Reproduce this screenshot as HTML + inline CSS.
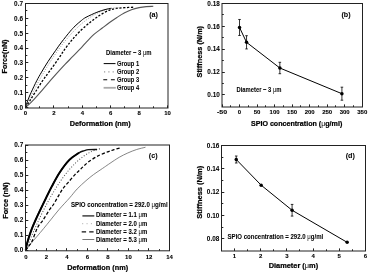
<!DOCTYPE html>
<html><head><meta charset="utf-8"><style>
html,body{margin:0;padding:0;background:#fff;width:368px;height:274px;overflow:hidden;}
</style></head><body>
<svg xmlns="http://www.w3.org/2000/svg" width="368" height="274" viewBox="0 0 368 274" style="position:absolute;left:0;top:0;font-family:'Liberation Sans', sans-serif;filter:grayscale(1)">
<rect width="368" height="274" fill="#fff"/>
<g>
<rect width="368" height="274" fill="#fff"/>
<path d="M25.50,107.50 C26.26,106.81 28.62,104.70 30.04,103.34 C31.46,101.98 31.98,101.53 34.02,99.33 C36.06,97.12 39.51,93.26 42.26,90.12 C45.00,86.97 47.84,83.51 50.49,80.46 C53.14,77.41 55.70,74.57 58.16,71.84 C60.62,69.12 62.77,66.72 65.26,64.12 C67.74,61.52 70.23,59.16 73.07,56.24 C75.91,53.32 78.87,50.18 82.30,46.59 C85.73,43.00 90.32,37.80 93.66,34.70 C97.00,31.60 99.67,30.04 102.32,28.01 C104.97,25.98 107.13,24.28 109.56,22.52 C112.00,20.76 114.51,19.05 116.95,17.47 C119.39,15.88 121.78,14.30 124.19,13.01 C126.60,11.72 128.95,10.63 131.43,9.74 C133.92,8.85 136.64,8.18 139.10,7.66 C141.56,7.14 143.83,6.84 146.20,6.62 C148.57,6.40 152.12,6.37 153.30,6.32" fill="none" stroke="#555" stroke-width="1.1"/>
<path d="M25.50,107.50 C26.21,106.39 28.10,103.41 29.76,100.81 C31.42,98.21 33.31,95.24 35.44,91.90 C37.57,88.56 40.17,84.22 42.54,80.76 C44.91,77.29 47.04,74.69 49.64,71.10 C52.24,67.51 55.67,62.80 58.16,59.21 C60.64,55.62 62.54,52.40 64.55,49.56 C66.56,46.71 68.55,44.23 70.23,42.13 C71.91,40.02 73.09,38.66 74.63,36.93 C76.17,35.20 77.57,33.59 79.46,31.73 C81.35,29.87 84.00,27.52 85.99,25.79 C87.98,24.05 89.57,22.76 91.39,21.33 C93.21,19.89 95.08,18.46 96.93,17.17 C98.77,15.88 100.36,14.79 102.46,13.60 C104.57,12.41 107.24,10.90 109.56,10.04 C111.88,9.17 113.82,8.80 116.38,8.40 C118.94,8.01 121.89,7.86 124.90,7.66 C127.91,7.46 132.83,7.29 134.41,7.21" fill="none" stroke="#000" stroke-width="1.3" stroke-dasharray="2.2 1.6"/>
<path d="M25.50,107.50 C26.15,106.14 28.10,102.01 29.41,99.35 C30.71,96.70 32.01,94.10 33.31,91.55 C34.61,89.01 35.91,86.53 37.21,84.10 C38.52,81.67 39.82,79.30 41.12,76.99 C42.42,74.68 43.72,72.43 45.03,70.23 C46.33,68.04 47.63,65.90 48.93,63.82 C50.23,61.74 51.53,59.72 52.83,57.75 C54.14,55.79 55.44,53.88 56.74,52.03 C58.04,50.18 59.34,48.39 60.65,46.66 C61.95,44.93 63.25,43.25 64.55,41.63 C65.85,40.02 67.15,38.46 68.45,36.95 C69.76,35.45 71.06,34.01 72.36,32.62 C73.66,31.23 74.96,29.90 76.27,28.63 C77.57,27.36 78.87,26.15 80.17,24.99 C81.47,23.84 82.77,22.74 84.07,21.70 C85.38,20.66 86.68,19.68 87.98,18.75 C89.28,17.83 90.58,16.96 91.88,16.15 C93.19,15.34 94.49,14.59 95.79,13.90 C97.09,13.21 98.39,12.57 99.69,11.99 C101.00,11.42 102.30,10.90 103.60,10.43 C104.90,9.97 106.20,9.57 107.50,9.22 C108.81,8.87 110.11,8.58 111.41,8.35 C112.71,8.12 114.01,7.95 115.31,7.83 C116.62,7.72 118.57,7.69 119.22,7.66" fill="none" stroke="#999" stroke-width="1" stroke-dasharray="1 1.5"/>
<path d="M25.50,107.50 C25.86,106.39 26.71,103.29 27.63,100.81 C28.55,98.34 29.52,95.99 31.04,92.64 C32.55,89.30 34.97,84.17 36.72,80.76 C38.47,77.34 39.65,75.36 41.55,72.14 C43.44,68.92 45.71,65.08 48.08,61.44 C50.44,57.80 53.50,53.52 55.75,50.30 C57.99,47.08 59.15,45.30 61.57,42.13 C63.98,38.96 67.98,33.96 70.23,31.28 C72.48,28.61 73.21,27.87 75.06,26.08 C76.90,24.30 79.48,22.05 81.31,20.59 C83.13,19.12 83.39,18.70 85.99,17.32 C88.60,15.93 93.75,13.55 96.93,12.27 C100.10,10.98 102.63,10.26 105.02,9.59 C107.41,8.92 110.23,8.48 111.27,8.25" fill="none" stroke="#000" stroke-width="1"/>
<rect x="25.50" y="3.50" width="142.50" height="104.50" fill="none" stroke="#222" stroke-width="1"/>
<line x1="25.50" y1="108.00" x2="25.50" y2="105.40" stroke="#222" stroke-width="1" />
<line x1="53.50" y1="108.00" x2="53.50" y2="105.40" stroke="#222" stroke-width="1" />
<line x1="82.50" y1="108.00" x2="82.50" y2="105.40" stroke="#222" stroke-width="1" />
<line x1="110.50" y1="108.00" x2="110.50" y2="105.40" stroke="#222" stroke-width="1" />
<line x1="139.50" y1="108.00" x2="139.50" y2="105.40" stroke="#222" stroke-width="1" />
<line x1="167.50" y1="108.00" x2="167.50" y2="105.40" stroke="#222" stroke-width="1" />
<line x1="39.50" y1="108.00" x2="39.50" y2="106.31" stroke="#222" stroke-width="1" />
<line x1="68.50" y1="108.00" x2="68.50" y2="106.31" stroke="#222" stroke-width="1" />
<line x1="96.50" y1="108.00" x2="96.50" y2="106.31" stroke="#222" stroke-width="1" />
<line x1="124.50" y1="108.00" x2="124.50" y2="106.31" stroke="#222" stroke-width="1" />
<line x1="153.50" y1="108.00" x2="153.50" y2="106.31" stroke="#222" stroke-width="1" />
<text x="25.50" y="114.70" font-size="6.2" text-anchor="middle" font-weight="bold" fill="#000" stroke="#000" stroke-width="0.1" textLength="3.34" lengthAdjust="spacingAndGlyphs" >0</text>
<text x="53.90" y="114.70" font-size="6.2" text-anchor="middle" font-weight="bold" fill="#000" stroke="#000" stroke-width="0.1" textLength="3.34" lengthAdjust="spacingAndGlyphs" >2</text>
<text x="82.30" y="114.70" font-size="6.2" text-anchor="middle" font-weight="bold" fill="#000" stroke="#000" stroke-width="0.1" textLength="3.34" lengthAdjust="spacingAndGlyphs" >4</text>
<text x="110.70" y="114.70" font-size="6.2" text-anchor="middle" font-weight="bold" fill="#000" stroke="#000" stroke-width="0.1" textLength="3.34" lengthAdjust="spacingAndGlyphs" >6</text>
<text x="139.10" y="114.70" font-size="6.2" text-anchor="middle" font-weight="bold" fill="#000" stroke="#000" stroke-width="0.1" textLength="3.34" lengthAdjust="spacingAndGlyphs" >8</text>
<text x="167.50" y="114.70" font-size="6.2" text-anchor="middle" font-weight="bold" fill="#000" stroke="#000" stroke-width="0.1" textLength="6.67" lengthAdjust="spacingAndGlyphs" >10</text>
<line x1="25.50" y1="107.50" x2="28.30" y2="107.50" stroke="#222" stroke-width="1" />
<line x1="25.50" y1="92.50" x2="28.30" y2="92.50" stroke="#222" stroke-width="1" />
<line x1="25.50" y1="77.50" x2="28.30" y2="77.50" stroke="#222" stroke-width="1" />
<line x1="25.50" y1="62.50" x2="28.30" y2="62.50" stroke="#222" stroke-width="1" />
<line x1="25.50" y1="48.50" x2="28.30" y2="48.50" stroke="#222" stroke-width="1" />
<line x1="25.50" y1="33.50" x2="28.30" y2="33.50" stroke="#222" stroke-width="1" />
<line x1="25.50" y1="18.50" x2="28.30" y2="18.50" stroke="#222" stroke-width="1" />
<line x1="25.50" y1="3.50" x2="28.30" y2="3.50" stroke="#222" stroke-width="1" />
<line x1="25.50" y1="100.50" x2="27.32" y2="100.50" stroke="#222" stroke-width="1" />
<line x1="25.50" y1="85.50" x2="27.32" y2="85.50" stroke="#222" stroke-width="1" />
<line x1="25.50" y1="70.50" x2="27.32" y2="70.50" stroke="#222" stroke-width="1" />
<line x1="25.50" y1="55.50" x2="27.32" y2="55.50" stroke="#222" stroke-width="1" />
<line x1="25.50" y1="40.50" x2="27.32" y2="40.50" stroke="#222" stroke-width="1" />
<line x1="25.50" y1="25.50" x2="27.32" y2="25.50" stroke="#222" stroke-width="1" />
<line x1="25.50" y1="10.50" x2="27.32" y2="10.50" stroke="#222" stroke-width="1" />
<text x="23.00" y="109.80" font-size="6.4" text-anchor="end" font-weight="bold" fill="#000" stroke="#000" stroke-width="0.04" >0.0</text>
<text x="23.00" y="94.94" font-size="6.4" text-anchor="end" font-weight="bold" fill="#000" stroke="#000" stroke-width="0.04" >0.1</text>
<text x="23.00" y="80.09" font-size="6.4" text-anchor="end" font-weight="bold" fill="#000" stroke="#000" stroke-width="0.04" >0.2</text>
<text x="23.00" y="65.23" font-size="6.4" text-anchor="end" font-weight="bold" fill="#000" stroke="#000" stroke-width="0.04" >0.3</text>
<text x="23.00" y="50.37" font-size="6.4" text-anchor="end" font-weight="bold" fill="#000" stroke="#000" stroke-width="0.04" >0.4</text>
<text x="23.00" y="35.51" font-size="6.4" text-anchor="end" font-weight="bold" fill="#000" stroke="#000" stroke-width="0.04" >0.5</text>
<text x="23.00" y="20.66" font-size="6.4" text-anchor="end" font-weight="bold" fill="#000" stroke="#000" stroke-width="0.04" >0.6</text>
<text x="23.00" y="5.80" font-size="6.4" text-anchor="end" font-weight="bold" fill="#000" stroke="#000" stroke-width="0.04" >0.7</text>
<text x="100.25" y="125.90" font-size="7.6" text-anchor="middle" font-weight="bold" fill="#000" stroke="#000" stroke-width="0.22" textLength="61" lengthAdjust="spacingAndGlyphs" >Deformation (nm)</text>
<text x="6.80" y="56.50" font-size="7.3" text-anchor="middle" font-weight="bold" fill="#000" stroke="#000" stroke-width="0.22" textLength="34" lengthAdjust="spacingAndGlyphs" transform="rotate(-90 6.80 56.50)" >Force(nN)</text>
<text x="153.60" y="17.40" font-size="7.2" text-anchor="middle" font-weight="bold" fill="#000" stroke="#000" stroke-width="0.05" >(a)</text>
<text x="106.00" y="55.00" font-size="6.4" text-anchor="start" font-weight="bold" fill="#000" stroke="#000" stroke-width="0.05" textLength="45.6" lengthAdjust="spacingAndGlyphs" >Diameter ~ 3 <tspan font-weight="normal" stroke-width="0">μ</tspan>m</text>
<text x="117.10" y="65.50" font-size="6.4" text-anchor="start" font-weight="bold" fill="#000" stroke="#000" stroke-width="0.05" textLength="22.1" lengthAdjust="spacingAndGlyphs" >Group 1</text>
<text x="117.10" y="73.90" font-size="6.4" text-anchor="start" font-weight="bold" fill="#000" stroke="#000" stroke-width="0.05" textLength="22.1" lengthAdjust="spacingAndGlyphs" >Group 2</text>
<text x="117.10" y="81.90" font-size="6.4" text-anchor="start" font-weight="bold" fill="#000" stroke="#000" stroke-width="0.05" textLength="22.1" lengthAdjust="spacingAndGlyphs" >Group 3</text>
<text x="117.10" y="89.50" font-size="6.4" text-anchor="start" font-weight="bold" fill="#000" stroke="#000" stroke-width="0.05" textLength="22.1" lengthAdjust="spacingAndGlyphs" >Group 4</text>
<line x1="103.70" y1="63.60" x2="115.50" y2="63.60" stroke="#000" stroke-width="1" />
<line x1="104.00" y1="71.90" x2="115.50" y2="71.90" stroke="#999" stroke-width="1.1" stroke-dasharray="1.2 3.1"/>
<line x1="103.30" y1="79.80" x2="114.80" y2="79.80" stroke="#000" stroke-width="1.1" stroke-dasharray="3.9 3.7"/>
<line x1="103.60" y1="87.80" x2="115.80" y2="87.80" stroke="#aaa" stroke-width="1.8" />
<polyline points="239.53,27.47 246.54,42.32 279.85,68.00 341.91,93.69" fill="none" stroke="#000" stroke-width="1"/>
<line x1="239.53" y1="19.48" x2="239.53" y2="35.47" stroke="#000" stroke-width="0.8" />
<line x1="238.23" y1="19.48" x2="240.83" y2="19.48" stroke="#000" stroke-width="0.8" />
<line x1="238.23" y1="35.47" x2="240.83" y2="35.47" stroke="#000" stroke-width="0.8" />
<circle cx="239.53" cy="27.47" r="1.75" fill="#000"/>
<line x1="246.54" y1="35.70" x2="246.54" y2="48.94" stroke="#000" stroke-width="0.8" />
<line x1="245.24" y1="35.70" x2="247.84" y2="35.70" stroke="#000" stroke-width="0.8" />
<line x1="245.24" y1="48.94" x2="247.84" y2="48.94" stroke="#000" stroke-width="0.8" />
<circle cx="246.54" cy="42.32" r="1.75" fill="#000"/>
<line x1="279.85" y1="62.30" x2="279.85" y2="73.71" stroke="#000" stroke-width="0.8" />
<line x1="278.55" y1="62.30" x2="281.15" y2="62.30" stroke="#000" stroke-width="0.8" />
<line x1="278.55" y1="73.71" x2="281.15" y2="73.71" stroke="#000" stroke-width="0.8" />
<circle cx="279.85" cy="68.00" r="1.75" fill="#000"/>
<line x1="341.91" y1="87.18" x2="341.91" y2="100.20" stroke="#000" stroke-width="0.8" />
<line x1="340.61" y1="87.18" x2="343.21" y2="87.18" stroke="#000" stroke-width="0.8" />
<line x1="340.61" y1="100.20" x2="343.21" y2="100.20" stroke="#000" stroke-width="0.8" />
<circle cx="341.91" cy="93.69" r="1.75" fill="#000"/>
<rect x="222.00" y="3.50" width="140.50" height="103.50" fill="none" stroke="#222" stroke-width="1"/>
<line x1="222.50" y1="107.00" x2="222.50" y2="104.40" stroke="#222" stroke-width="1" />
<line x1="239.50" y1="107.00" x2="239.50" y2="104.40" stroke="#222" stroke-width="1" />
<line x1="257.50" y1="107.00" x2="257.50" y2="104.40" stroke="#222" stroke-width="1" />
<line x1="274.50" y1="107.00" x2="274.50" y2="104.40" stroke="#222" stroke-width="1" />
<line x1="292.50" y1="107.00" x2="292.50" y2="104.40" stroke="#222" stroke-width="1" />
<line x1="309.50" y1="107.00" x2="309.50" y2="104.40" stroke="#222" stroke-width="1" />
<line x1="327.50" y1="107.00" x2="327.50" y2="104.40" stroke="#222" stroke-width="1" />
<line x1="344.50" y1="107.00" x2="344.50" y2="104.40" stroke="#222" stroke-width="1" />
<line x1="362.50" y1="107.00" x2="362.50" y2="104.40" stroke="#222" stroke-width="1" />
<line x1="230.50" y1="107.00" x2="230.50" y2="105.31" stroke="#222" stroke-width="1" />
<line x1="248.50" y1="107.00" x2="248.50" y2="105.31" stroke="#222" stroke-width="1" />
<line x1="265.50" y1="107.00" x2="265.50" y2="105.31" stroke="#222" stroke-width="1" />
<line x1="283.50" y1="107.00" x2="283.50" y2="105.31" stroke="#222" stroke-width="1" />
<line x1="300.50" y1="107.00" x2="300.50" y2="105.31" stroke="#222" stroke-width="1" />
<line x1="318.50" y1="107.00" x2="318.50" y2="105.31" stroke="#222" stroke-width="1" />
<line x1="335.50" y1="107.00" x2="335.50" y2="105.31" stroke="#222" stroke-width="1" />
<line x1="353.50" y1="107.00" x2="353.50" y2="105.31" stroke="#222" stroke-width="1" />
<text x="222.00" y="113.80" font-size="6.2" text-anchor="middle" font-weight="bold" fill="#000" stroke="#000" stroke-width="0.1" textLength="10.18" lengthAdjust="spacingAndGlyphs" >-50</text>
<text x="239.53" y="113.80" font-size="6.2" text-anchor="middle" font-weight="bold" fill="#000" stroke="#000" stroke-width="0.1" textLength="3.34" lengthAdjust="spacingAndGlyphs" >0</text>
<text x="257.06" y="113.80" font-size="6.2" text-anchor="middle" font-weight="bold" fill="#000" stroke="#000" stroke-width="0.1" textLength="6.67" lengthAdjust="spacingAndGlyphs" >50</text>
<text x="274.59" y="113.80" font-size="6.2" text-anchor="middle" font-weight="bold" fill="#000" stroke="#000" stroke-width="0.1" textLength="10.01" lengthAdjust="spacingAndGlyphs" >100</text>
<text x="292.12" y="113.80" font-size="6.2" text-anchor="middle" font-weight="bold" fill="#000" stroke="#000" stroke-width="0.1" textLength="10.01" lengthAdjust="spacingAndGlyphs" >150</text>
<text x="309.66" y="113.80" font-size="6.2" text-anchor="middle" font-weight="bold" fill="#000" stroke="#000" stroke-width="0.1" textLength="10.01" lengthAdjust="spacingAndGlyphs" >200</text>
<text x="327.19" y="113.80" font-size="6.2" text-anchor="middle" font-weight="bold" fill="#000" stroke="#000" stroke-width="0.1" textLength="10.01" lengthAdjust="spacingAndGlyphs" >250</text>
<text x="344.72" y="113.80" font-size="6.2" text-anchor="middle" font-weight="bold" fill="#000" stroke="#000" stroke-width="0.1" textLength="10.01" lengthAdjust="spacingAndGlyphs" >300</text>
<text x="362.25" y="113.80" font-size="6.2" text-anchor="middle" font-weight="bold" fill="#000" stroke="#000" stroke-width="0.1" textLength="10.01" lengthAdjust="spacingAndGlyphs" >350</text>
<line x1="222.00" y1="94.50" x2="224.80" y2="94.50" stroke="#222" stroke-width="1" />
<line x1="222.00" y1="72.50" x2="224.80" y2="72.50" stroke="#222" stroke-width="1" />
<line x1="222.00" y1="49.50" x2="224.80" y2="49.50" stroke="#222" stroke-width="1" />
<line x1="222.00" y1="26.50" x2="224.80" y2="26.50" stroke="#222" stroke-width="1" />
<line x1="222.00" y1="3.50" x2="224.80" y2="3.50" stroke="#222" stroke-width="1" />
<line x1="222.00" y1="83.50" x2="223.82" y2="83.50" stroke="#222" stroke-width="1" />
<line x1="222.00" y1="60.50" x2="223.82" y2="60.50" stroke="#222" stroke-width="1" />
<line x1="222.00" y1="37.50" x2="223.82" y2="37.50" stroke="#222" stroke-width="1" />
<line x1="222.00" y1="14.50" x2="223.82" y2="14.50" stroke="#222" stroke-width="1" />
<text x="219.80" y="97.13" font-size="6.4" text-anchor="end" font-weight="bold" fill="#000" stroke="#000" stroke-width="0.04" >0.10</text>
<text x="219.80" y="74.30" font-size="6.4" text-anchor="end" font-weight="bold" fill="#000" stroke="#000" stroke-width="0.04" >0.12</text>
<text x="219.80" y="51.47" font-size="6.4" text-anchor="end" font-weight="bold" fill="#000" stroke="#000" stroke-width="0.04" >0.14</text>
<text x="219.80" y="28.63" font-size="6.4" text-anchor="end" font-weight="bold" fill="#000" stroke="#000" stroke-width="0.04" >0.16</text>
<text x="219.80" y="5.80" font-size="6.4" text-anchor="end" font-weight="bold" fill="#000" stroke="#000" stroke-width="0.04" >0.18</text>
<text x="296.60" y="126.40" font-size="7.4" text-anchor="middle" font-weight="bold" fill="#000" stroke="#000" stroke-width="0.22" textLength="91.3" lengthAdjust="spacingAndGlyphs" >SPIO concentration (<tspan font-weight="normal" stroke-width="0">μ</tspan>g/ml)</text>
<text x="202.30" y="51.70" font-size="7.5" text-anchor="middle" font-weight="bold" fill="#000" stroke="#000" stroke-width="0.22" textLength="51.5" lengthAdjust="spacingAndGlyphs" transform="rotate(-90 202.30 51.70)" >Stiffness (N/m)</text>
<text x="346.00" y="16.90" font-size="7.2" text-anchor="middle" font-weight="bold" fill="#000" stroke="#000" stroke-width="0.05" >(b)</text>
<text x="236.50" y="91.90" font-size="6.4" text-anchor="start" font-weight="bold" fill="#000" stroke="#000" stroke-width="0.05" textLength="45" lengthAdjust="spacingAndGlyphs" >Diameter ~ 3 <tspan font-weight="normal" stroke-width="0">μ</tspan>m</text>
<path d="M25.80,250.40 C26.67,249.22 29.17,245.67 31.03,243.34 C32.90,241.02 34.90,238.89 36.99,236.44 C39.08,233.98 41.28,231.38 43.56,228.63 C45.83,225.88 48.11,223.05 50.64,219.92 C53.17,216.79 55.58,213.54 58.75,209.86 C61.91,206.18 66.57,201.33 69.63,197.85 C72.69,194.37 74.40,191.84 77.12,188.99 C79.84,186.14 83.21,183.14 85.95,180.73 C88.69,178.33 91.18,176.35 93.54,174.58 C95.91,172.80 98.28,171.32 100.11,170.07 C101.94,168.82 102.88,168.20 104.53,167.07 C106.17,165.94 107.52,164.94 109.97,163.32 C112.41,161.69 116.23,159.04 119.20,157.31 C122.18,155.58 124.92,154.26 127.83,152.96 C130.74,151.66 133.71,150.45 136.65,149.50 C139.60,148.55 144.01,147.63 145.48,147.25" fill="none" stroke="#666" stroke-width="0.8"/>
<path d="M25.80,250.40 C26.31,249.65 27.85,247.40 28.88,245.90 C29.91,244.39 30.76,243.89 31.96,241.39 C33.16,238.89 34.87,233.63 36.06,230.88 C37.26,228.13 38.07,226.55 39.14,224.88 C40.22,223.20 40.82,223.32 42.53,220.82 C44.24,218.32 47.61,212.54 49.41,209.86 C51.20,207.18 51.85,207.01 53.31,204.76 C54.77,202.50 56.61,199.00 58.18,196.35 C59.76,193.70 61.10,191.14 62.75,188.84 C64.40,186.54 66.05,184.91 68.09,182.54 C70.12,180.16 73.08,176.60 74.97,174.58 C76.85,172.55 78.01,171.70 79.38,170.37 C80.75,169.05 81.64,168.05 83.18,166.62 C84.72,165.19 86.21,163.57 88.62,161.82 C91.03,160.06 94.50,157.76 97.65,156.11 C100.80,154.46 104.77,152.98 107.50,151.91 C110.24,150.83 112.02,150.30 114.07,149.65 C116.13,149.00 118.86,148.28 119.82,148.00" fill="none" stroke="#000" stroke-width="1.25" stroke-dasharray="3.2 2"/>
<path d="M25.80,250.40 C26.32,249.10 27.88,245.14 28.93,242.58 C29.97,240.03 31.01,237.53 32.05,235.08 C33.09,232.63 34.14,230.23 35.18,227.88 C36.22,225.53 37.26,223.24 38.31,221.00 C39.35,218.75 40.39,216.56 41.43,214.42 C42.47,212.29 43.52,210.20 44.56,208.16 C45.60,206.13 46.64,204.14 47.68,202.21 C48.73,200.28 49.77,198.40 50.81,196.57 C51.85,194.75 52.89,192.97 53.94,191.25 C54.98,189.52 56.02,187.85 57.06,186.23 C58.11,184.61 59.15,183.04 60.19,181.53 C61.23,180.01 62.27,178.55 63.32,177.13 C64.36,175.72 65.40,174.36 66.44,173.05 C67.48,171.74 68.53,170.49 69.57,169.28 C70.61,168.08 71.65,166.93 72.69,165.82 C73.74,164.72 74.78,163.67 75.82,162.68 C76.86,161.68 77.91,160.73 78.95,159.84 C79.99,158.95 81.03,158.11 82.07,157.32 C83.12,156.53 84.16,155.79 85.20,155.10 C86.24,154.42 87.28,153.78 88.33,153.20 C89.37,152.62 90.41,152.09 91.45,151.61 C92.50,151.13 93.54,150.70 94.58,150.33 C95.62,149.96 96.66,149.63 97.71,149.36 C98.75,149.09 100.31,148.82 100.83,148.71" fill="none" stroke="#555" stroke-width="1.05" stroke-dasharray="1 1.8"/>
<path d="M25.80,250.40 C25.94,249.52 26.13,247.27 26.62,245.15 C27.12,243.02 27.95,240.27 28.78,237.64 C29.61,235.01 30.50,232.26 31.60,229.38 C32.70,226.50 34.09,223.32 35.40,220.37 C36.71,217.42 37.66,215.42 39.45,211.66 C41.24,207.91 44.04,202.10 46.12,197.85 C48.21,193.60 49.66,190.44 51.97,186.14 C54.28,181.83 57.07,176.40 59.98,172.03 C62.89,167.65 66.26,163.07 69.42,159.86 C72.59,156.66 76.49,154.33 78.97,152.81 C81.45,151.28 82.73,151.23 84.31,150.71 C85.88,150.18 86.29,149.85 88.41,149.65 C90.53,149.45 95.60,149.53 97.03,149.50" fill="none" stroke="#111" stroke-width="1.4"/>
<path d="M25.80,250.40 C25.94,249.52 26.13,247.27 26.62,245.15 C27.12,243.02 27.95,240.27 28.78,237.64 C29.61,235.01 30.50,232.26 31.60,229.38 C32.70,226.50 34.09,223.32 35.40,220.37 C36.71,217.42 37.66,215.42 39.45,211.66 C41.24,207.91 44.04,202.10 46.12,197.85 C48.21,193.60 49.66,190.44 51.97,186.14 C54.28,181.83 57.07,176.40 59.98,172.03 C62.89,167.65 66.26,163.07 69.42,159.86 C72.59,156.66 77.38,153.98 78.97,152.81" fill="none" stroke="#000" stroke-width="2.0"/>
<rect x="25.50" y="145.00" width="144.00" height="105.80" fill="none" stroke="#222" stroke-width="1"/>
<line x1="25.50" y1="250.80" x2="25.50" y2="248.20" stroke="#222" stroke-width="1" />
<line x1="46.50" y1="250.80" x2="46.50" y2="248.20" stroke="#222" stroke-width="1" />
<line x1="66.50" y1="250.80" x2="66.50" y2="248.20" stroke="#222" stroke-width="1" />
<line x1="87.50" y1="250.80" x2="87.50" y2="248.20" stroke="#222" stroke-width="1" />
<line x1="107.50" y1="250.80" x2="107.50" y2="248.20" stroke="#222" stroke-width="1" />
<line x1="128.50" y1="250.80" x2="128.50" y2="248.20" stroke="#222" stroke-width="1" />
<line x1="148.50" y1="250.80" x2="148.50" y2="248.20" stroke="#222" stroke-width="1" />
<line x1="169.50" y1="250.80" x2="169.50" y2="248.20" stroke="#222" stroke-width="1" />
<line x1="36.50" y1="250.80" x2="36.50" y2="249.11" stroke="#222" stroke-width="1" />
<line x1="56.50" y1="250.80" x2="56.50" y2="249.11" stroke="#222" stroke-width="1" />
<line x1="77.50" y1="250.80" x2="77.50" y2="249.11" stroke="#222" stroke-width="1" />
<line x1="97.50" y1="250.80" x2="97.50" y2="249.11" stroke="#222" stroke-width="1" />
<line x1="118.50" y1="250.80" x2="118.50" y2="249.11" stroke="#222" stroke-width="1" />
<line x1="138.50" y1="250.80" x2="138.50" y2="249.11" stroke="#222" stroke-width="1" />
<line x1="159.50" y1="250.80" x2="159.50" y2="249.11" stroke="#222" stroke-width="1" />
<text x="25.80" y="259.00" font-size="6.2" text-anchor="middle" font-weight="bold" fill="#000" stroke="#000" stroke-width="0.1" textLength="3.34" lengthAdjust="spacingAndGlyphs" >0</text>
<text x="46.33" y="259.00" font-size="6.2" text-anchor="middle" font-weight="bold" fill="#000" stroke="#000" stroke-width="0.1" textLength="3.34" lengthAdjust="spacingAndGlyphs" >2</text>
<text x="66.86" y="259.00" font-size="6.2" text-anchor="middle" font-weight="bold" fill="#000" stroke="#000" stroke-width="0.1" textLength="3.34" lengthAdjust="spacingAndGlyphs" >4</text>
<text x="87.39" y="259.00" font-size="6.2" text-anchor="middle" font-weight="bold" fill="#000" stroke="#000" stroke-width="0.1" textLength="3.34" lengthAdjust="spacingAndGlyphs" >6</text>
<text x="107.91" y="259.00" font-size="6.2" text-anchor="middle" font-weight="bold" fill="#000" stroke="#000" stroke-width="0.1" textLength="3.34" lengthAdjust="spacingAndGlyphs" >8</text>
<text x="128.44" y="259.00" font-size="6.2" text-anchor="middle" font-weight="bold" fill="#000" stroke="#000" stroke-width="0.1" textLength="6.67" lengthAdjust="spacingAndGlyphs" >10</text>
<text x="148.97" y="259.00" font-size="6.2" text-anchor="middle" font-weight="bold" fill="#000" stroke="#000" stroke-width="0.1" textLength="6.67" lengthAdjust="spacingAndGlyphs" >12</text>
<text x="169.50" y="259.00" font-size="6.2" text-anchor="middle" font-weight="bold" fill="#000" stroke="#000" stroke-width="0.1" textLength="6.67" lengthAdjust="spacingAndGlyphs" >14</text>
<line x1="25.50" y1="250.50" x2="28.30" y2="250.50" stroke="#222" stroke-width="1" />
<line x1="25.50" y1="235.50" x2="28.30" y2="235.50" stroke="#222" stroke-width="1" />
<line x1="25.50" y1="220.50" x2="28.30" y2="220.50" stroke="#222" stroke-width="1" />
<line x1="25.50" y1="205.50" x2="28.30" y2="205.50" stroke="#222" stroke-width="1" />
<line x1="25.50" y1="190.50" x2="28.30" y2="190.50" stroke="#222" stroke-width="1" />
<line x1="25.50" y1="175.50" x2="28.30" y2="175.50" stroke="#222" stroke-width="1" />
<line x1="25.50" y1="160.50" x2="28.30" y2="160.50" stroke="#222" stroke-width="1" />
<line x1="25.50" y1="145.50" x2="28.30" y2="145.50" stroke="#222" stroke-width="1" />
<line x1="25.50" y1="242.50" x2="27.32" y2="242.50" stroke="#222" stroke-width="1" />
<line x1="25.50" y1="227.50" x2="27.32" y2="227.50" stroke="#222" stroke-width="1" />
<line x1="25.50" y1="212.50" x2="27.32" y2="212.50" stroke="#222" stroke-width="1" />
<line x1="25.50" y1="197.50" x2="27.32" y2="197.50" stroke="#222" stroke-width="1" />
<line x1="25.50" y1="182.50" x2="27.32" y2="182.50" stroke="#222" stroke-width="1" />
<line x1="25.50" y1="167.50" x2="27.32" y2="167.50" stroke="#222" stroke-width="1" />
<line x1="25.50" y1="152.50" x2="27.32" y2="152.50" stroke="#222" stroke-width="1" />
<text x="23.20" y="252.20" font-size="6.4" text-anchor="end" font-weight="bold" fill="#000" stroke="#000" stroke-width="0.04" >0.0</text>
<text x="23.20" y="237.19" font-size="6.4" text-anchor="end" font-weight="bold" fill="#000" stroke="#000" stroke-width="0.04" >0.1</text>
<text x="23.20" y="222.17" font-size="6.4" text-anchor="end" font-weight="bold" fill="#000" stroke="#000" stroke-width="0.04" >0.2</text>
<text x="23.20" y="207.16" font-size="6.4" text-anchor="end" font-weight="bold" fill="#000" stroke="#000" stroke-width="0.04" >0.3</text>
<text x="23.20" y="192.14" font-size="6.4" text-anchor="end" font-weight="bold" fill="#000" stroke="#000" stroke-width="0.04" >0.4</text>
<text x="23.20" y="177.13" font-size="6.4" text-anchor="end" font-weight="bold" fill="#000" stroke="#000" stroke-width="0.04" >0.5</text>
<text x="23.20" y="162.11" font-size="6.4" text-anchor="end" font-weight="bold" fill="#000" stroke="#000" stroke-width="0.04" >0.6</text>
<text x="23.20" y="147.10" font-size="6.4" text-anchor="end" font-weight="bold" fill="#000" stroke="#000" stroke-width="0.04" >0.7</text>
<text x="97.70" y="269.60" font-size="7.6" text-anchor="middle" font-weight="bold" fill="#000" stroke="#000" stroke-width="0.22" textLength="61" lengthAdjust="spacingAndGlyphs" >Deformation (nm)</text>
<text x="8.30" y="200.60" font-size="7.3" text-anchor="middle" font-weight="bold" fill="#000" stroke="#000" stroke-width="0.22" textLength="36.4" lengthAdjust="spacingAndGlyphs" transform="rotate(-90 8.30 200.60)" >Force (nN)</text>
<text x="153.20" y="157.70" font-size="7.2" text-anchor="middle" font-weight="bold" fill="#000" stroke="#000" stroke-width="0.05" >(c)</text>
<text x="71.00" y="206.50" font-size="6.4" text-anchor="start" font-weight="bold" fill="#000" stroke="#000" stroke-width="0.05" textLength="96.6" lengthAdjust="spacingAndGlyphs" >SPIO concentration = 292.0 <tspan font-weight="normal" stroke-width="0">μ</tspan>g/ml</text>
<text x="95.90" y="217.40" font-size="6.4" text-anchor="start" font-weight="bold" fill="#000" stroke="#000" stroke-width="0.05" textLength="51.4" lengthAdjust="spacingAndGlyphs" >Diameter = 1.1 <tspan font-weight="normal" stroke-width="0">μ</tspan>m</text>
<text x="95.90" y="225.80" font-size="6.4" text-anchor="start" font-weight="bold" fill="#000" stroke="#000" stroke-width="0.05" textLength="51.4" lengthAdjust="spacingAndGlyphs" >Diameter = 2.0 <tspan font-weight="normal" stroke-width="0">μ</tspan>m</text>
<text x="95.90" y="233.80" font-size="6.4" text-anchor="start" font-weight="bold" fill="#000" stroke="#000" stroke-width="0.05" textLength="51.4" lengthAdjust="spacingAndGlyphs" >Diameter = 3.2 <tspan font-weight="normal" stroke-width="0">μ</tspan>m</text>
<text x="95.90" y="241.60" font-size="6.4" text-anchor="start" font-weight="bold" fill="#000" stroke="#000" stroke-width="0.05" textLength="51.4" lengthAdjust="spacingAndGlyphs" >Diameter = 5.3 <tspan font-weight="normal" stroke-width="0">μ</tspan>m</text>
<line x1="82.40" y1="215.90" x2="94.30" y2="215.90" stroke="#333" stroke-width="1.4" />
<line x1="82.20" y1="223.70" x2="94.40" y2="223.70" stroke="#aaa" stroke-width="1" stroke-dasharray="1 3.35"/>
<line x1="81.70" y1="231.80" x2="93.60" y2="231.80" stroke="#111" stroke-width="1.3" stroke-dasharray="4.4 3.1"/>
<line x1="82.40" y1="239.50" x2="94.30" y2="239.50" stroke="#666" stroke-width="0.9" />
<polyline points="236.24,159.50 261.15,185.17 292.09,210.25 347.15,242.33" fill="none" stroke="#000" stroke-width="1"/>
<line x1="236.24" y1="156.00" x2="236.24" y2="163.00" stroke="#000" stroke-width="0.8" />
<line x1="234.94" y1="156.00" x2="237.54" y2="156.00" stroke="#000" stroke-width="0.8" />
<line x1="234.94" y1="163.00" x2="237.54" y2="163.00" stroke="#000" stroke-width="0.8" />
<circle cx="236.24" cy="159.50" r="1.75" fill="#000"/>
<circle cx="261.15" cy="185.17" r="1.75" fill="#000"/>
<line x1="292.09" y1="204.42" x2="292.09" y2="216.08" stroke="#000" stroke-width="0.8" />
<line x1="290.79" y1="204.42" x2="293.39" y2="204.42" stroke="#000" stroke-width="0.8" />
<line x1="290.79" y1="216.08" x2="293.39" y2="216.08" stroke="#000" stroke-width="0.8" />
<circle cx="292.09" cy="210.25" r="1.75" fill="#000"/>
<circle cx="347.15" cy="242.33" r="1.75" fill="#000"/>
<rect x="221.50" y="145.50" width="144.00" height="105.50" fill="none" stroke="#222" stroke-width="1"/>
<line x1="234.50" y1="251.00" x2="234.50" y2="248.40" stroke="#222" stroke-width="1" />
<line x1="260.50" y1="251.00" x2="260.50" y2="248.40" stroke="#222" stroke-width="1" />
<line x1="286.50" y1="251.00" x2="286.50" y2="248.40" stroke="#222" stroke-width="1" />
<line x1="313.50" y1="251.00" x2="313.50" y2="248.40" stroke="#222" stroke-width="1" />
<line x1="339.50" y1="251.00" x2="339.50" y2="248.40" stroke="#222" stroke-width="1" />
<line x1="365.50" y1="251.00" x2="365.50" y2="248.40" stroke="#222" stroke-width="1" />
<line x1="247.50" y1="251.00" x2="247.50" y2="249.31" stroke="#222" stroke-width="1" />
<line x1="273.50" y1="251.00" x2="273.50" y2="249.31" stroke="#222" stroke-width="1" />
<line x1="299.50" y1="251.00" x2="299.50" y2="249.31" stroke="#222" stroke-width="1" />
<line x1="326.50" y1="251.00" x2="326.50" y2="249.31" stroke="#222" stroke-width="1" />
<line x1="352.50" y1="251.00" x2="352.50" y2="249.31" stroke="#222" stroke-width="1" />
<text x="234.41" y="258.30" font-size="6.2" text-anchor="middle" font-weight="bold" fill="#000" stroke="#000" stroke-width="0.1" textLength="3.34" lengthAdjust="spacingAndGlyphs" >1</text>
<text x="260.63" y="258.30" font-size="6.2" text-anchor="middle" font-weight="bold" fill="#000" stroke="#000" stroke-width="0.1" textLength="3.34" lengthAdjust="spacingAndGlyphs" >2</text>
<text x="286.85" y="258.30" font-size="6.2" text-anchor="middle" font-weight="bold" fill="#000" stroke="#000" stroke-width="0.1" textLength="3.34" lengthAdjust="spacingAndGlyphs" >3</text>
<text x="313.06" y="258.30" font-size="6.2" text-anchor="middle" font-weight="bold" fill="#000" stroke="#000" stroke-width="0.1" textLength="3.34" lengthAdjust="spacingAndGlyphs" >4</text>
<text x="339.28" y="258.30" font-size="6.2" text-anchor="middle" font-weight="bold" fill="#000" stroke="#000" stroke-width="0.1" textLength="3.34" lengthAdjust="spacingAndGlyphs" >5</text>
<text x="365.50" y="258.30" font-size="6.2" text-anchor="middle" font-weight="bold" fill="#000" stroke="#000" stroke-width="0.1" textLength="3.34" lengthAdjust="spacingAndGlyphs" >6</text>
<line x1="221.50" y1="238.50" x2="224.30" y2="238.50" stroke="#222" stroke-width="1" />
<line x1="221.50" y1="215.50" x2="224.30" y2="215.50" stroke="#222" stroke-width="1" />
<line x1="221.50" y1="192.50" x2="224.30" y2="192.50" stroke="#222" stroke-width="1" />
<line x1="221.50" y1="168.50" x2="224.30" y2="168.50" stroke="#222" stroke-width="1" />
<line x1="221.50" y1="145.50" x2="224.30" y2="145.50" stroke="#222" stroke-width="1" />
<line x1="221.50" y1="227.50" x2="223.32" y2="227.50" stroke="#222" stroke-width="1" />
<line x1="221.50" y1="203.50" x2="223.32" y2="203.50" stroke="#222" stroke-width="1" />
<line x1="221.50" y1="180.50" x2="223.32" y2="180.50" stroke="#222" stroke-width="1" />
<line x1="221.50" y1="157.50" x2="223.32" y2="157.50" stroke="#222" stroke-width="1" />
<text x="219.30" y="241.13" font-size="6.4" text-anchor="end" font-weight="bold" fill="#000" stroke="#000" stroke-width="0.04" >0.08</text>
<text x="219.30" y="217.80" font-size="6.4" text-anchor="end" font-weight="bold" fill="#000" stroke="#000" stroke-width="0.04" >0.10</text>
<text x="219.30" y="194.47" font-size="6.4" text-anchor="end" font-weight="bold" fill="#000" stroke="#000" stroke-width="0.04" >0.12</text>
<text x="219.30" y="171.13" font-size="6.4" text-anchor="end" font-weight="bold" fill="#000" stroke="#000" stroke-width="0.04" >0.14</text>
<text x="219.30" y="147.80" font-size="6.4" text-anchor="end" font-weight="bold" fill="#000" stroke="#000" stroke-width="0.04" >0.16</text>
<text x="293.40" y="268.30" font-size="7.4" text-anchor="middle" font-weight="bold" fill="#000" stroke="#000" stroke-width="0.22" >Diameter (<tspan font-weight="normal" stroke-width="0">μ</tspan>m)</text>
<text x="202.30" y="192.20" font-size="7.5" text-anchor="middle" font-weight="bold" fill="#000" stroke="#000" stroke-width="0.22" textLength="53" lengthAdjust="spacingAndGlyphs" transform="rotate(-90 202.30 192.20)" >Stiffness (N/m)</text>
<text x="350.30" y="158.00" font-size="7.2" text-anchor="middle" font-weight="bold" fill="#000" stroke="#000" stroke-width="0.05" >(d)</text>
<text x="227.60" y="238.60" font-size="6.4" text-anchor="start" font-weight="bold" fill="#000" stroke="#000" stroke-width="0.05" textLength="95.6" lengthAdjust="spacingAndGlyphs" >SPIO concentration = 292.0 <tspan font-weight="normal" stroke-width="0">μ</tspan>g/ml</text>
</g>
</svg>
</body></html>
